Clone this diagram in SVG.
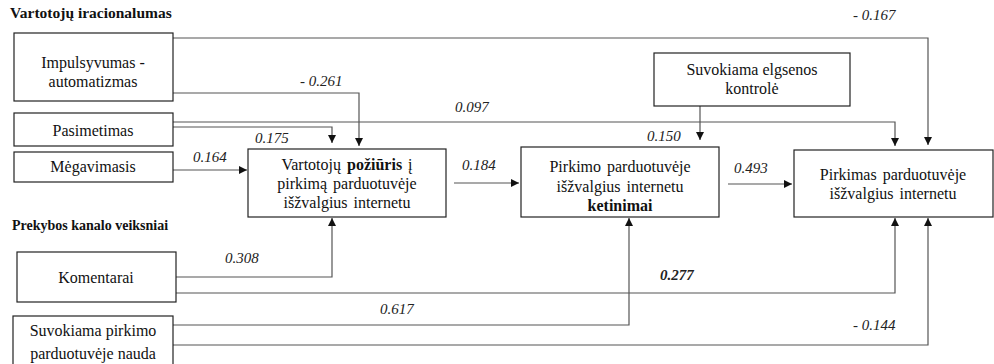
<svg xmlns="http://www.w3.org/2000/svg" width="994" height="364" viewBox="0 0 994 364" font-family="Liberation Serif, Times New Roman, serif">
<defs>
<marker id="a" viewBox="0 0 10 10" refX="10" refY="5" markerWidth="9" markerHeight="8" markerUnits="userSpaceOnUse" orient="auto">
<path d="M0,0 L10,5 L0,10 z" fill="#111"/>
</marker>
</defs>
<rect width="994" height="364" fill="#fff"/>
<g fill="#111">
<text x="10" y="18" font-size="15.5" font-weight="bold" font-family="Liberation Serif">Vartotojų iracionalumas</text>
<text x="12" y="230" font-size="14" font-weight="bold" font-family="Liberation Serif">Prekybos kanalo veiksniai</text>
</g>
<g id="connectors" fill="none" stroke="#555" stroke-width="1.2">
<path d="M173,38 H928 V145" marker-end="url(#a)"/>
<path d="M173,93 H359 V146" marker-end="url(#a)"/>
<path d="M173,122 H895 V146" marker-end="url(#a)"/>
<path d="M173,127 H332 V143" marker-end="url(#a)"/>
<path d="M173,170 H247" marker-end="url(#a)"/>
<path d="M454,183 H519" marker-end="url(#a)"/>
<path d="M728,184 H792" marker-end="url(#a)"/>
<path d="M700,106 V140" marker-end="url(#a)"/>
<path d="M176,277 H332 V218" marker-end="url(#a)"/>
<path d="M176,293 H895 V218" marker-end="url(#a)"/>
<path d="M173,325 H629 V218" marker-end="url(#a)"/>
<path d="M173,345 H928 V218" marker-end="url(#a)"/>
</g>
<g id="labels" font-style="italic" font-size="15" fill="#222">
<text x="853" y="20" font-family="Liberation Serif">- 0.167</text>
<text x="300" y="86" font-family="Liberation Serif">- 0.261</text>
<text x="455" y="112" font-family="Liberation Serif">0.097</text>
<text x="255" y="143" font-family="Liberation Serif">0.175</text>
<text x="193" y="162" font-family="Liberation Serif">0.164</text>
<text x="462" y="170" font-family="Liberation Serif">0.184</text>
<text x="734" y="173" font-family="Liberation Serif">0.493</text>
<text x="647" y="141" font-family="Liberation Serif">0.150</text>
<text x="225" y="263" font-family="Liberation Serif">0.308</text>
<text x="660" y="280" font-weight="bold" font-family="Liberation Serif">0.277</text>
<text x="380" y="314" font-family="Liberation Serif">0.617</text>
<text x="853" y="330" font-family="Liberation Serif">- 0.144</text>
</g>
<g id="nodes" font-size="16" fill="#111" text-anchor="middle">
<g id="impulsyvumas">
<rect x="14" y="33" width="159" height="68" fill="#fff" stroke="#222" stroke-width="1.2"/>
<text x="93" y="68" font-family="Liberation Serif">Impulsyvumas -</text>
<text x="93" y="87" font-family="Liberation Serif">automatizmas</text>
</g>
<g id="pasimetimas">
<rect x="14" y="113" width="159" height="33" fill="#fff" stroke="#222" stroke-width="1.2"/>
<text x="93" y="136" font-family="Liberation Serif">Pasimetimas</text>
</g>
<g id="megavimasis">
<rect x="14" y="152" width="159" height="30" fill="#fff" stroke="#222" stroke-width="1.2"/>
<text x="93" y="172" font-family="Liberation Serif">Mėgavimasis</text>
</g>
<g id="poziuris">
<rect x="248" y="149" width="198" height="68" fill="#fff" stroke="#222" stroke-width="1.2"/>
<text x="347" y="170" word-spacing="2" font-family="Liberation Serif">Vartotojų <tspan font-weight="bold">požiūris</tspan> į</text>
<text x="347" y="189" word-spacing="2" font-family="Liberation Serif">pirkimą parduotuvėje</text>
<text x="347" y="208" word-spacing="2" font-family="Liberation Serif">išžvalgius internetu</text>
</g>
<g id="ketinimai">
<rect x="521" y="147" width="198" height="70" fill="#fff" stroke="#222" stroke-width="1.2"/>
<text x="620" y="172" word-spacing="2" font-family="Liberation Serif">Pirkimo parduotuvėje</text>
<text x="620" y="192" word-spacing="2" font-family="Liberation Serif">išžvalgius internetu</text>
<text x="620" y="211" font-weight="bold" font-family="Liberation Serif">ketinimai</text>
</g>
<g id="kontrole">
<rect x="654" y="53" width="196" height="53" fill="#fff" stroke="#222" stroke-width="1.2"/>
<text x="752" y="75" font-family="Liberation Serif">Suvokiama elgsenos</text>
<text x="752" y="94" font-family="Liberation Serif">kontrolė</text>
</g>
<g id="pirkimas">
<rect x="794" y="150" width="199" height="67" fill="#fff" stroke="#222" stroke-width="1.2"/>
<text x="893" y="180" word-spacing="2" font-family="Liberation Serif">Pirkimas parduotuvėje</text>
<text x="893" y="199" word-spacing="2" font-family="Liberation Serif">išžvalgius internetu</text>
</g>
<g id="komentarai">
<rect x="17" y="252" width="159" height="50" fill="#fff" stroke="#222" stroke-width="1.2"/>
<text x="96" y="283" font-family="Liberation Serif">Komentarai</text>
</g>
<g id="nauda">
<rect x="13" y="316" width="160" height="52" fill="#fff" stroke="#222" stroke-width="1.2"/>
<text x="93" y="336" font-family="Liberation Serif">Suvokiama pirkimo</text>
<text x="93" y="359" font-family="Liberation Serif">parduotuvėje nauda</text>
</g>
</g>
</svg>
